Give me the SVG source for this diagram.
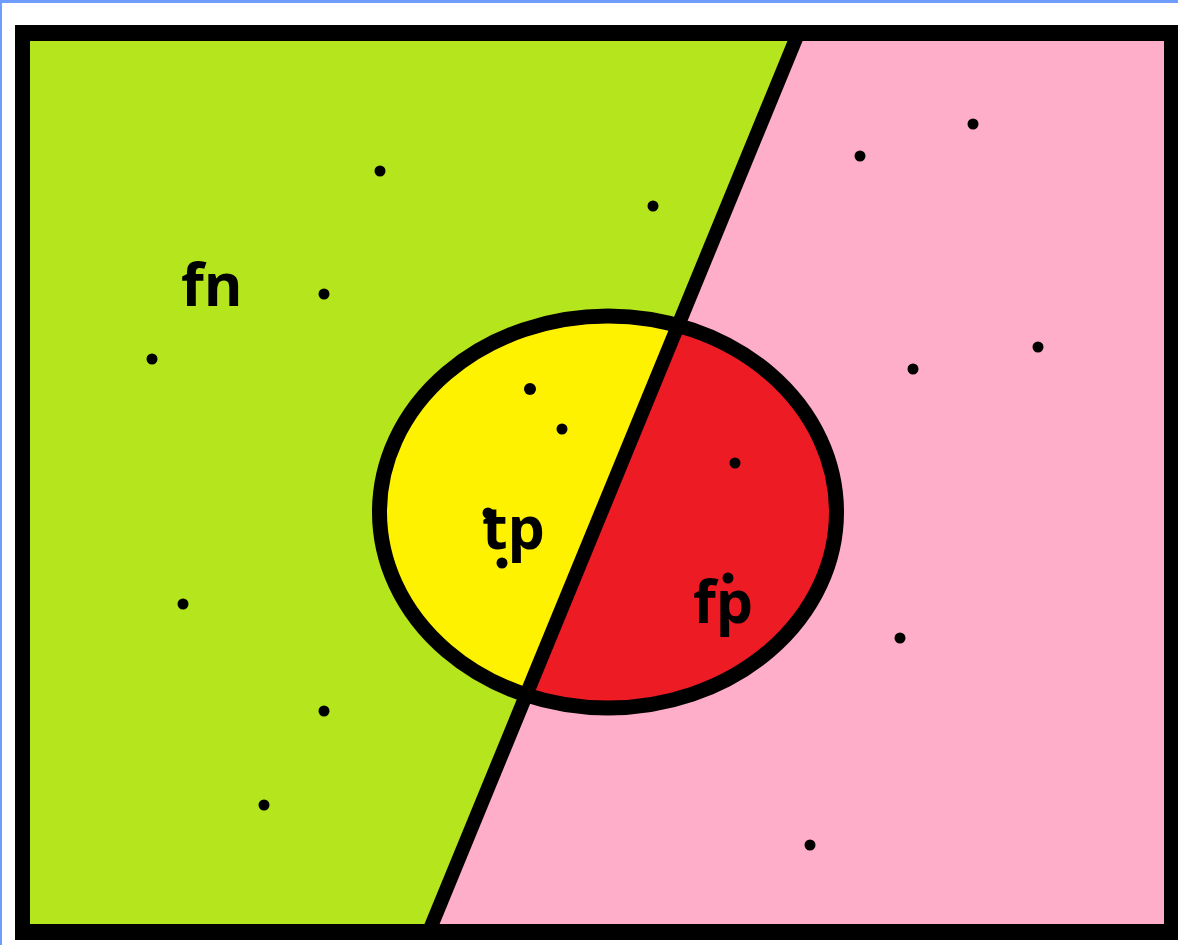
<svg xmlns="http://www.w3.org/2000/svg" width="1178" height="945" viewBox="0 0 1178 945">
<style>
.lbl{font-family:"Open Sans","Liberation Sans",sans-serif;font-weight:700;font-size:59px;fill:#000}
.dot{fill:#000}
</style>
<defs>
<clipPath id="inner"><rect x="30" y="41" width="1134" height="883"/></clipPath>
<clipPath id="ell"><ellipse cx="608" cy="512" rx="228.5" ry="196"/></clipPath>
</defs>
<rect x="0" y="0" width="1178" height="945" fill="#fff"/>
<rect x="0" y="0" width="1178" height="3" fill="#6f9cff"/>
<rect x="0" y="0" width="2" height="945" fill="#6f9cff"/>
<rect x="15" y="25" width="1163" height="915" fill="#000"/>
<g id="regions" clip-path="url(#inner)">
<polygon points="30,41 1164,41 1164,924 30,924" fill="#ffaec9"/>
<polygon points="30,41 795,41 432,924 30,924" fill="#b5e61d"/>
<g clip-path="url(#ell)">
<polygon points="300,200 924,200 924,800 300,800" fill="#ed1c24"/>
<polygon points="200,-200 894,-200 286,1280 200,1280" fill="#fff200"/>
</g>
<ellipse cx="608" cy="512" rx="228.5" ry="196" fill="none" stroke="#000" stroke-width="15"/>
</g>
<g id="connectors" clip-path="url(#inner)">
<line x1="805.5" y1="15.5" x2="423" y2="946" stroke="#000" stroke-width="14"/>
</g>
<g id="dots">
<circle class="dot" cx="380" cy="171" r="5.5"/>
<circle class="dot" cx="653" cy="206" r="5.5"/>
<circle class="dot" cx="324" cy="294" r="5.5"/>
<circle class="dot" cx="152" cy="359" r="5.5"/>
<circle class="dot" cx="530" cy="389" r="6"/>
<circle class="dot" cx="562" cy="429" r="5.5"/>
<circle class="dot" cx="488" cy="513" r="5.5"/>
<circle class="dot" cx="502" cy="563" r="5.5"/>
<circle class="dot" cx="735" cy="463" r="5.5"/>
<circle class="dot" cx="728" cy="578" r="5.5"/>
<circle class="dot" cx="860" cy="156" r="5.5"/>
<circle class="dot" cx="973" cy="124" r="5.5"/>
<circle class="dot" cx="1038" cy="347" r="5.5"/>
<circle class="dot" cx="913" cy="369" r="5.5"/>
<circle class="dot" cx="900" cy="638" r="5.5"/>
<circle class="dot" cx="183" cy="604" r="5.5"/>
<circle class="dot" cx="324" cy="711" r="5.5"/>
<circle class="dot" cx="264" cy="805" r="5.5"/>
<circle class="dot" cx="810" cy="845" r="5.5"/>
</g>
<g id="labels">
<text class="lbl" x="181" y="306">fn</text>
<text class="lbl" x="482" y="549">tp</text>
<text class="lbl" x="693" y="623">fp</text>
</g>
</svg>
